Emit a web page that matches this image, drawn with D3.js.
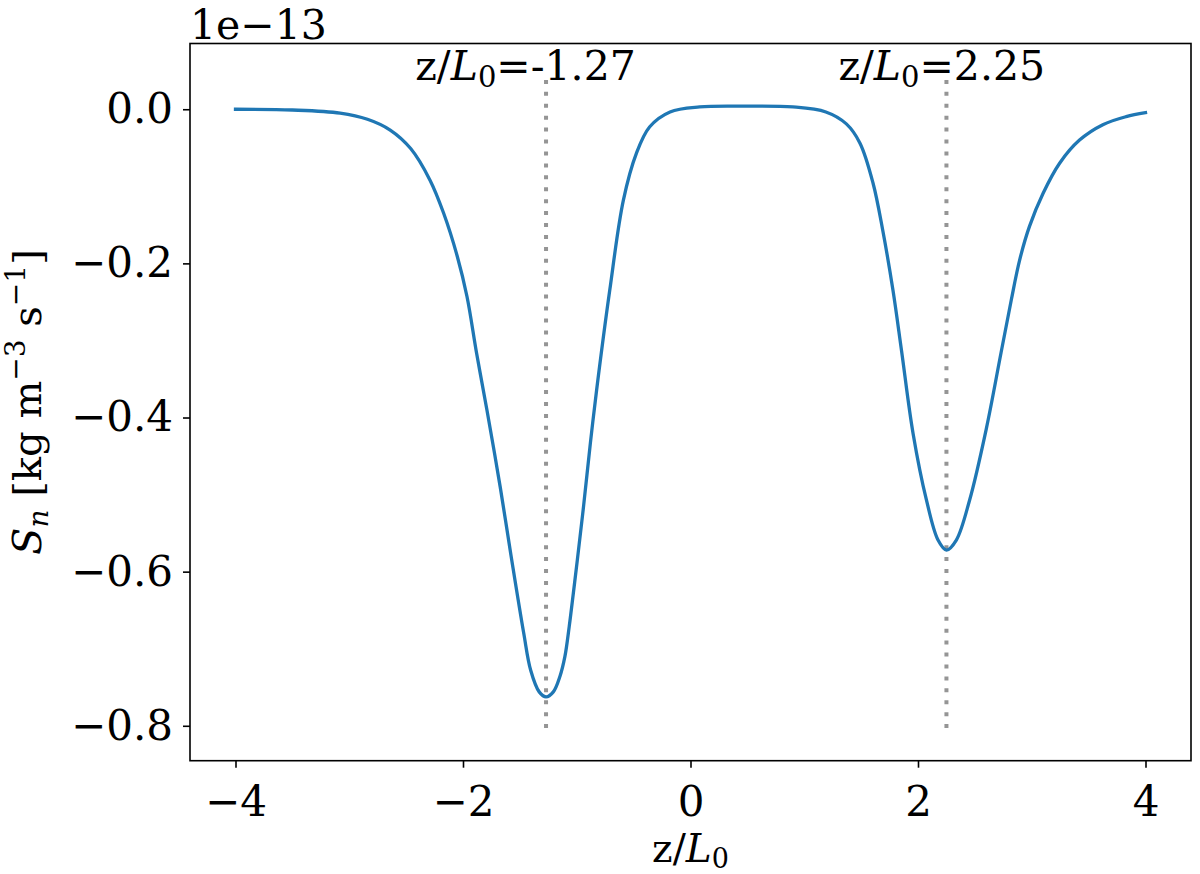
<!DOCTYPE html>
<html>
<head>
<meta charset="utf-8">
<script src="https://cdn.jsdelivr.net/npm/d3@7"></script>
<style>
  body { margin: 0; background: #fff; }
  svg { display: block; font-family: 'DejaVu Serif', serif; }
  .tick text { font-family: 'DejaVu Serif', serif; }
</style>
</head>
<body>
<div id="chart"></div>
<script>
// z/L0 positions and Sn values (units of 1e-13 kg m^-3 s^-1)
const zValues = [-4.0, -3.5, -3.08, -2.84, -2.64, -2.46, -2.29, -2.17, -2.05, -1.965, -1.88, -1.79,
  -1.673, -1.579, -1.466, -1.405, -1.33, -1.27, -1.206, -1.148, -1.104, -1.066, -1.03, -0.995,
  -0.94, -0.88, -0.825, -0.71, -0.59, -0.475, -0.36, -0.18, 0.08, 0.46, 0.9, 1.19, 1.37, 1.49,
  1.605, 1.69, 1.78, 1.855, 1.957, 2.074, 2.176, 2.25, 2.337, 2.454, 2.6, 2.73, 2.82, 2.893,
  2.98, 3.1, 3.245, 3.42, 3.625, 3.83, 4.0];
const snValues = [0.0, -0.001, -0.005, -0.013, -0.027, -0.051, -0.092, -0.135, -0.191, -0.243, -0.317, -0.39,
  -0.49, -0.578, -0.68, -0.728, -0.756, -0.7625, -0.756, -0.736, -0.71, -0.671, -0.628, -0.585,
  -0.515, -0.433, -0.364, -0.235, -0.118, -0.057, -0.023, -0.0035, 0.003, 0.004, 0.003, -0.0035, -0.019, -0.044,
  -0.096, -0.157, -0.235, -0.313, -0.421, -0.507, -0.559, -0.572, -0.559, -0.507, -0.415, -0.316, -0.2475, -0.196,
  -0.152, -0.109, -0.07, -0.04, -0.02, -0.0096, -0.0044];

// marked minima (dotted vertical lines) and their labels
const minimaZ = [-1.27, 2.25];
const minimaLabels = ['-1.27', '2.25'];
const labelStartZ = [-2.42, 1.30];
const vlineRange = [-0.803, 0.043];

const xTicks = [-4, -2, 0, 2, 4];
const yTicks = [0.0, -0.2, -0.4, -0.6, -0.8];

class ProfilePlot {
  constructor(_config) {
    this.config = {
      parentElement: _config.parentElement,
      containerWidth: 1200,
      containerHeight: 874,
      margin: { top: 43.5, right: 9, bottom: 113.3, left: 190 }
    };
    this.initVis();
  }

  initVis() {
    let vis = this;
    vis.width = vis.config.containerWidth - vis.config.margin.left - vis.config.margin.right;
    vis.height = vis.config.containerHeight - vis.config.margin.top - vis.config.margin.bottom;

    vis.svg = d3.select(vis.config.parentElement).append('svg')
      .attr('width', vis.config.containerWidth)
      .attr('height', vis.config.containerHeight);

    vis.chart = vis.svg.append('g')
      .attr('transform', `translate(${vis.config.margin.left},${vis.config.margin.top})`);

    // matplotlib style 5% padding
    const xPad = (d3.max(zValues) - d3.min(zValues)) * 0.05;
    const yPad = (vlineRange[1] - vlineRange[0]) * 0.05;
    vis.xScale = d3.scaleLinear()
      .domain([d3.min(zValues) - xPad, d3.max(zValues) + xPad])
      .range([0, vis.width]);
    vis.yScale = d3.scaleLinear()
      .domain([vlineRange[0] - yPad, vlineRange[1] + yPad])
      .range([vis.height, 0]);

    vis.renderVis();
  }

  renderVis() {
    let vis = this;
    const fmtMinus = s => s.replace('-', '\u2212');

    // dotted markers
    vis.chart.selectAll('.vline')
      .data(minimaZ)
      .join('line')
      .attr('class', 'vline')
      .attr('x1', d => vis.xScale(d))
      .attr('x2', d => vis.xScale(d))
      .attr('y1', vis.yScale(vlineRange[0]))
      .attr('y2', vis.yScale(vlineRange[1]))
      .attr('stroke', '#959595')
      .attr('stroke-width', 4)
      .attr('stroke-dasharray', '4 7.93');

    const line = d3.line()
      .x((d, i) => vis.xScale(zValues[i]))
      .y(d => vis.yScale(d))
      .curve(d3.curveCatmullRom.alpha(0.5));

    vis.chart.append('path')
      .datum(snValues)
      .attr('fill', 'none')
      .attr('stroke', '#1f77b4')
      .attr('stroke-width', 3.3)
      .attr('stroke-linejoin', 'round')
      .attr('stroke-linecap', 'square')
      .attr('d', line);

    // annotations
    const ann = vis.chart.selectAll('.ann')
      .data(minimaZ)
      .join('text')
      .attr('class', 'ann')
      .attr('x', (d, i) => vis.xScale(labelStartZ[i]))
      .attr('y', vis.yScale(0.038))
      .attr('font-size', 41);
    ann.append('tspan').text('z/');
    ann.append('tspan').attr('font-style', 'italic').text('L');
    ann.append('tspan').attr('font-size', 29).attr('dy', 7).text('0');
    ann.append('tspan').attr('dy', -7).text((d, i) => '=' + minimaLabels[i]);

    // axes
    const xAxis = d3.axisBottom(vis.xScale)
      .tickValues(xTicks)
      .tickSize(7)
      .tickPadding(10)
      .tickFormat(d => fmtMinus(d3.format('d')(d)));
    const yAxis = d3.axisLeft(vis.yScale)
      .tickValues(yTicks)
      .tickSize(7)
      .tickPadding(10)
      .tickFormat(d => fmtMinus(d3.format('.1f')(d)));

    const gx = vis.chart.append('g')
      .attr('transform', `translate(0,${vis.height})`)
      .call(xAxis);
    const gy = vis.chart.append('g').call(yAxis);
    [gx, gy].forEach(g => {
      g.select('.domain').remove();
      g.selectAll('.tick line').attr('stroke', '#000').attr('stroke-width', 1.6);
      g.selectAll('.tick text').attr('font-size', 42).attr('fill', '#000');
    });
    gx.selectAll('.tick text').attr('dy', '0.92em');

    // frame
    vis.chart.append('rect')
      .attr('width', vis.width)
      .attr('height', vis.height)
      .attr('fill', 'none')
      .attr('stroke', '#000')
      .attr('stroke-width', 1.6);

    // offset text
    vis.chart.append('text')
      .attr('x', 0)
      .attr('y', -5)
      .attr('font-size', 41)
      .text('1e\u221213');

    // x label
    const xl = vis.chart.append('text')
      .attr('x', vis.width / 2)
      .attr('y', vis.height + 101)
      .attr('text-anchor', 'middle')
      .attr('font-size', 39);
    xl.append('tspan').text('z/');
    xl.append('tspan').attr('font-style', 'italic').text('L');
    xl.append('tspan').attr('font-size', 27).attr('dy', 6).text('0');

    // y label
    const yl = vis.chart.append('text')
      .attr('transform', `translate(${-149},${vis.height / 2}) rotate(-90)`)
      .attr('text-anchor', 'middle')
      .attr('font-size', 40);
    yl.append('tspan').attr('font-style', 'italic').text('S');
    yl.append('tspan').attr('font-style', 'italic').attr('font-size', 28).attr('dy', 7).text('n');
    yl.append('tspan').attr('dy', -7).text(' [kg m');
    yl.append('tspan').attr('font-size', 28).attr('dy', -16).text('\u22123');
    yl.append('tspan').attr('dy', 16).text(' s');
    yl.append('tspan').attr('font-size', 28).attr('dy', -16).text('\u22121');
    yl.append('tspan').attr('dy', 16).text(']');
  }
}

new ProfilePlot({ parentElement: '#chart' });
</script>
</body>
</html>
